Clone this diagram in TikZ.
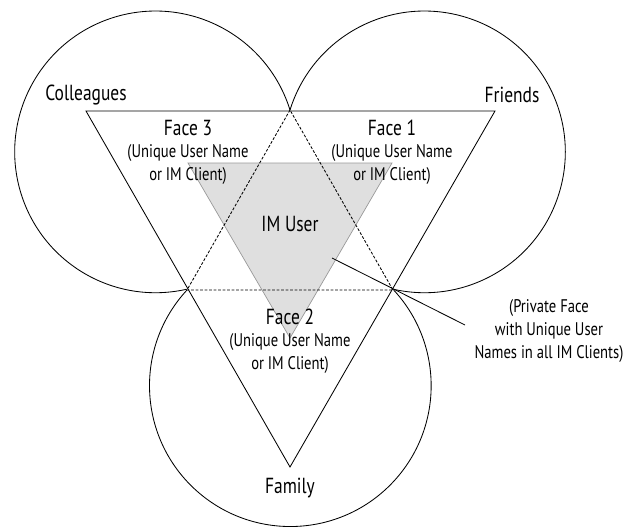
\documentclass[tikz,border=0pt]{standalone}
\usepackage{fontspec}
\setmainfont{PT Sans}[FakeStretch=0.8]
\begin{document}
\begin{tikzpicture}[x=0.025cm,y=-0.025cm,line width=0.6pt,
  big/.style={font=\fontsize{15.5}{17}\selectfont},
  small/.style={font=\fontsize{13}{16.5}\selectfont,align=center}]
\useasboundingbox (0,0) rectangle (636,527);
\coordinate (T1) at (86,111);
\coordinate (T2) at (495,111);
\coordinate (T3) at (290,467);
\coordinate (D1) at (290,110);
\coordinate (D2) at (187,290);
\coordinate (D3) at (393,290);
\coordinate (G1) at (188,163);
\coordinate (G2) at (392,163);
\coordinate (G3) at (290,338);

\fill[gray!25](G1)--(G2)--(G3)--cycle;
\draw[gray!80,line width=0.5pt](G1)--(G2)--(G3)--cycle;

% outer arcs of the three circles
\draw (D1) arc[start angle=17.3, end angle=282.8, radius=3.52cm];
\draw (D1) arc[start angle=162.7, end angle=-102.8, radius=3.52cm];
\draw (D2) arc[start angle=137.2, end angle=402.8, radius=3.52cm];

\draw (T1)--(T2)--(T3)--cycle;
\draw[dash pattern=on 2pt off 1.2pt](D1)--(D2)--(D3)--cycle;

\node[big](A) at (86,95){Colleagues};
\node[big](B) at (512,95){Friends};
\node[big](C) at (290,488){Family};
\node[big](U) at (290,224){IM User};
\node[big](F3) at (188,128){Face 3};
\node[small](F3a) at (188,164.5){(Unique User Name\\or IM Client)};
\node[big](F1) at (392,128){Face 1};
\node[small](F1a) at (392,164.5){(Unique User Name\\or IM Client)};
\node[big](F2) at (290,317){Face 2};
\node[small](F2a) at (290,353.5){(Unique User Name\\or IM Client)};
\node[small](P) at (549,331){(Private Face\\with Unique User\\Names in all IM Clients)};

\coordinate (P0) at (332,258);
\coordinate (P1) at (465,325);
\draw (P0)--(P1);
\end{tikzpicture}
\end{document}
